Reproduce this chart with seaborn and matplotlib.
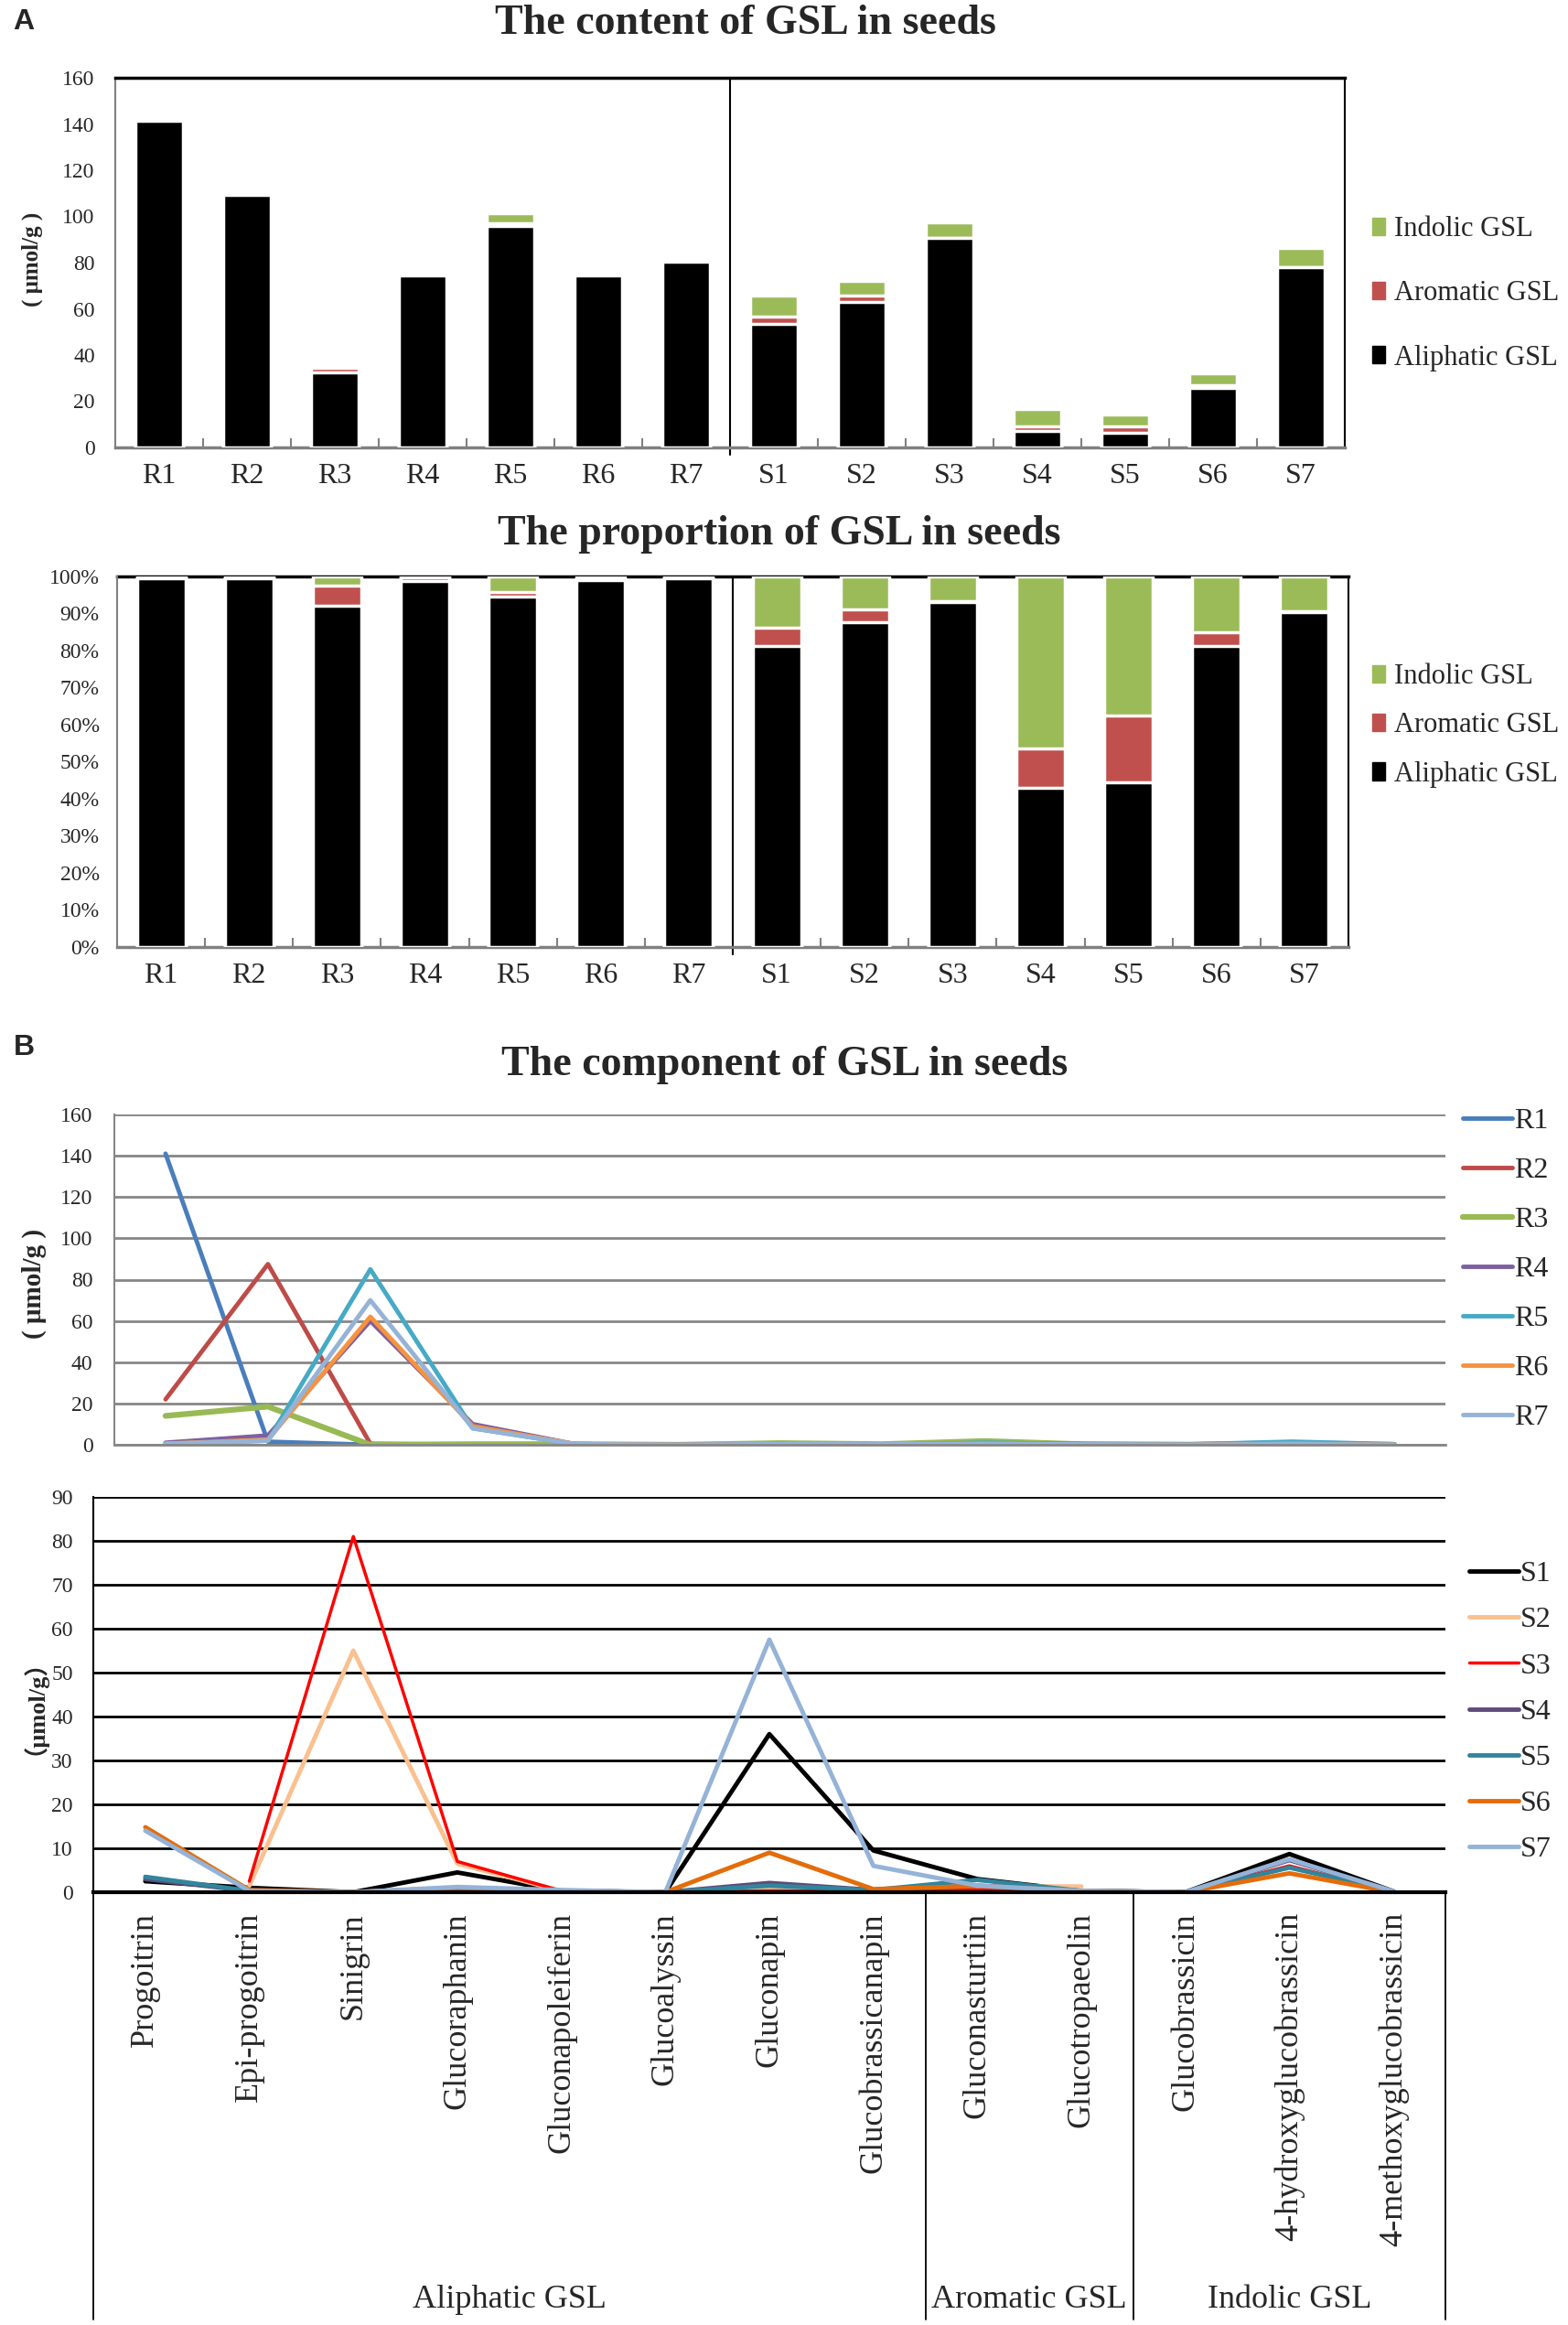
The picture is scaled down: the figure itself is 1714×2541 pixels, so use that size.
import numpy as np
import pandas as pd
import seaborn as sns
import matplotlib.pyplot as plt
from matplotlib.patches import Patch
from matplotlib.lines import Line2D
from matplotlib.ticker import FuncFormatter

# ---- data -------------------------------------------------------------
samples = ['R1', 'R2', 'R3', 'R4', 'R5', 'R6', 'R7',
           'S1', 'S2', 'S3', 'S4', 'S5', 'S6', 'S7']
aliphatic = [141.2, 109.2, 32.5, 74.3, 95.8, 74.3, 80.5,
             53.3, 63.1, 90.5, 7.2, 6.4, 25.9, 78.0]
aromatic = [0.1, 0.1, 1.9, 0.8, 1.3, 0.3, 0.1,
            3.3, 2.5, 0.2, 1.8, 2.6, 1.2, 0.2]
indolic = [0.6, 0.5, 0.9, 0.1, 4.3, 0.5, 0.4,
           9.1, 6.4, 6.6, 7.8, 5.4, 4.8, 8.0]

components = ['Progoitrin', 'Epi-progoitrin', 'Sinigrin', 'Glucoraphanin',
              'Gluconapoleiferin', 'Glucoalyssin', 'Gluconapin',
              'Glucobrassicanapin', 'Gluconasturtiin', 'Glucotropaeolin',
              'Glucobrassicin', '4-hydroxyglucobrassicin',
              '4-methoxyglucobrassicin']
groups = ['Aliphatic GSL', 'Aromatic GSL', 'Indolic GSL']
group_bounds = [(-0.5, 7.5), (7.5, 9.5), (9.5, 12.5)]

nan = np.nan
R1 = [141, 1.5, 0, 0, 0, 0, 0, 0, 0, 0, 0, 0.3, 0]
R2 = [22, 87.5, 0.5, 0, 0, 0, 0, 0, 0.1, 0, 0, 0.4, 0]
R3 = [14, 18.5, 0, 0.3, 0.3, 0, 0.8, 0.3, 1.8, 0.2, 0, 0.8, 0]
R4 = [1, 4.5, 60, 10, 0.3, 0, 0.3, 0, 0.5, 0.4, 0.3, 0.5, 0.2]
R5 = [0.5, 2, 85, 8, 0.3, 0, 0.2, 0, 1, 0.3, 0.2, 1.5, 0.3]
R6 = [0.5, 2.5, 62, 9, 0.3, 0, 0, 0, 0.3, 0, 0, 0.5, 0]
R7 = [0.5, 2, 70, 8, 0.3, 0, 0.3, 0.2, 0.5, 0.2, 0, 0.4, 0]

S1 = [2.5, 1.0, 0, 4.5, 0.3, 0, 36, 9.5, 3.0, 0.3, 0, 8.7, 0.2]
S2 = [nan, 1.5, 55, 6.5, 0.3, 0, 1, 0.5, 1.4, 1.3, nan, nan, nan]
S3 = [nan, 2.5, 81, 7, 0.3, 0, 0.3, 0.3, 0.5, 0.3, 0, 6, 0]
S4 = [3, 0.3, 0, 1, 0.3, 0, 2.1, 0.5, 1.5, 0.3, 0, 7.3, 0.2]
S5 = [3.5, 0.3, 0, 0.8, 0.3, 0, 1.5, 0.5, 2.8, 0.3, 0, 5.6, 0.2]
S6 = [14.8, 0.5, 0, 1, 0.3, 0, 9, 0.7, 1.4, 0.3, 0, 4.3, 0]
S7 = [14, 0.3, 0, 1.2, 0.5, 0, 57.5, 6, 1.5, 0.3, 0, 7.5, 0.2]

r_series = {'R1': R1, 'R2': R2, 'R3': R3, 'R4': R4, 'R5': R5, 'R6': R6, 'R7': R7}
s_series = {'S1': S1, 'S2': S2, 'S3': S3, 'S4': S4, 'S5': S5, 'S6': S6, 'S7': S7}

r_colors = {'R1': '#4A7EBB', 'R2': '#BE4B48', 'R3': '#98B954', 'R4': '#7D60A0',
            'R5': '#46AAC5', 'R6': '#F69240', 'R7': '#95B3D7'}
s_colors = {'S1': '#000000', 'S2': '#FAC090', 'S3': '#FF0000', 'S4': '#604A7B',
            'S5': '#31859C', 'S6': '#E46C0A', 'S7': '#95B3D7'}
s_widths = {'S1': 3.5, 'S2': 3.5, 'S3': 2.5, 'S4': 3.5, 'S5': 3.5, 'S6': 3.5, 'S7': 3.5}

c_ali, c_aro, c_ind = '#000000', '#C0504D', '#9BBB59'

# ---- style ------------------------------------------------------------
sns.set_style('white')
plt.rcParams['font.family'] = ['Liberation Serif', 'Noto Sans CJK SC']
plt.rcParams['axes.linewidth'] = 1.5

W, H = 1715, 2541
fig = plt.figure(figsize=(W / 100, H / 100), dpi=100)


def box(left, top, right, bottom):
    return [left / W, 1 - bottom / H, (right - left) / W, (bottom - top) / H]


df = pd.DataFrame({'sample': samples, 'aliphatic': aliphatic,
                   'aromatic': aromatic, 'indolic': indolic})
df['lvl1'] = df['aliphatic']
df['lvl2'] = df['aliphatic'] + df['aromatic']
df['lvl3'] = df['lvl2'] + df['indolic']


def stacked(ax, a, b, c):
    kw = dict(x=samples, width=0.55, saturation=1, edgecolor='white',
              linewidth=2.5, ax=ax, zorder=3, errorbar=None)
    sns.barplot(y=c, color=c_ind, **kw)
    sns.barplot(y=b, color=c_aro, **kw)
    sns.barplot(y=a, color=c_ali, **kw)
    ax.set_xlim(-0.5, 13.5)
    ax.set_xlabel('')
    ax.set_ylabel('')
    ax.set_xticks(range(14))
    ax.set_xticklabels(samples, fontsize=23)
    ax.set_xticks([i + 0.5 for i in range(13) if i != 6], minor=True)
    ax.tick_params(axis='x', which='major', length=0, pad=12)
    ax.tick_params(axis='x', which='minor', direction='in', length=7,
                   width=1.5, color='#808080', bottom=True)
    ax.tick_params(axis='y', length=0, labelsize=17)
    ax.spines['left'].set_color('#808080')
    ax.spines['bottom'].set_color('#808080')
    ax.spines['bottom'].set_linewidth(2.5)
    ax.spines['top'].set_color('black')
    ax.spines['top'].set_linewidth(2.5)
    ax.spines['right'].set_color('black')
    ax.axvline(6.5, ymin=-0.02, ymax=1, color='black', lw=1.5, clip_on=False)


def bar_legend(y_top, spacing):
    handles = [Patch(color=c_ind, label='Indolic GSL'),
               Patch(color=c_aro, label='Aromatic GSL'),
               Patch(color=c_ali, label='Aliphatic GSL')]
    fig.legend(handles=handles, loc='upper left',
               bbox_to_anchor=(1500 / W, 1 - y_top / H),
               frameon=False, fontsize=22, handlelength=0.45, handleheight=0.6,
               handletextpad=0.35, labelspacing=spacing, borderpad=0,
               borderaxespad=0)


# ---- A: content -------------------------------------------------------
ax1 = fig.add_axes(box(126, 85, 1470, 489))
stacked(ax1, df['lvl1'], df['lvl2'], df['lvl3'])
ax1.set_ylim(0, 160)
ax1.set_yticks(range(0, 161, 20))
ax1.tick_params(axis='y', pad=16)
bar_legend(236, 1.35)

# ---- A: proportion ----------------------------------------------------
ax2 = fig.add_axes(box(128, 630, 1474, 1035))
tot = df['lvl3']
stacked(ax2, df['lvl1'] / tot, df['lvl2'] / tot, df['lvl3'] / tot)
ax2.spines['top'].set_zorder(1)
ax2.set_ylim(0, 1)
ax2.set_yticks(np.arange(0, 1.01, 0.1))
ax2.yaxis.set_major_formatter(FuncFormatter(lambda v, p: f'{v * 100:.0f}%'))
ax2.tick_params(axis='y', pad=14)
bar_legend(725, 0.80)

# ---- B: components, R lines -------------------------------------------
pos = list(range(len(components)))
ax3 = fig.add_axes(box(125, 1218, 1580, 1579))
for name, vals in r_series.items():
    sns.lineplot(x=pos, y=vals, color=r_colors[name],
                 linewidth=4.5 if name == 'R3' else 3.5,
                 estimator=None, sort=False, label=name, ax=ax3)
ax3.set_xlim(-0.5, 12.5)
ax3.set_ylim(0, 160)
ax3.set_yticks(range(0, 161, 20))
ax3.set_xticks(pos)
ax3.set_xticklabels([])
ax3.tick_params(axis='both', length=0, labelsize=17)
ax3.tick_params(axis='y', pad=17)
ax3.set_axisbelow(True)
ax3.yaxis.grid(True, color='#868686', lw=2)
for s in ['top', 'right']:
    ax3.spines[s].set_visible(False)
ax3.spines['left'].set_color('#868686')
ax3.spines['bottom'].set_color('#868686')
ax3.spines['bottom'].set_linewidth(2)
ax3.legend(loc='upper left', bbox_to_anchor=(1599 / W, 1 - 1211 / H),
           bbox_transform=fig.transFigure, frameon=False, fontsize=23,
           handlelength=1.7, handletextpad=0.05, labelspacing=0.77,
           borderpad=0, borderaxespad=0)

# ---- B: components, S lines -------------------------------------------
ax4 = fig.add_axes(box(102, 1636, 1580, 2068))
for name, vals in s_series.items():
    sns.lineplot(x=pos, y=vals, color=s_colors[name], linewidth=s_widths[name],
                 estimator=None, sort=False, label=name, ax=ax4)
ax4.set_xlim(-0.5, 12.5)
ax4.set_ylim(0, 90)
ax4.set_yticks(range(0, 91, 10))
ax4.set_xticks(pos)
ax4.set_xticklabels(components, rotation=90, fontsize=26)
ax4.tick_params(axis='both', length=0, labelsize=17)
ax4.tick_params(axis='x', labelsize=26, pad=16)
ax4.tick_params(axis='y', pad=16)
ax4.set_axisbelow(True)
ax4.yaxis.grid(True, color='black', lw=2)
for s in ['top', 'right']:
    ax4.spines[s].set_visible(False)
ax4.spines['left'].set_color('black')
ax4.spines['bottom'].set_color('black')
ax4.spines['bottom'].set_linewidth(3)
ax4.legend(loc='upper left', bbox_to_anchor=(1606 / W, 1 - 1706 / H),
           bbox_transform=fig.transFigure, frameon=False, fontsize=23,
           handlelength=1.7, handletextpad=0.05, labelspacing=0.65,
           borderpad=0, borderaxespad=0)

# group separators and labels under the rotated names
trans = ax4.get_xaxis_transform()
drop = -(2535 - 2068) / (2068 - 1636)
for xb in [-0.5, 7.5, 9.5, 12.5]:
    ax4.add_line(Line2D([xb, xb], [0, drop], color='black', lw=1.3,
                        transform=trans, clip_on=False))
lab_y = -(2513 - 2068) / (2068 - 1636)
for g, (a, b) in zip(groups, group_bounds):
    ax4.text((a + b) / 2, lab_y, g, transform=trans, ha='center', va='center',
             fontsize=26)

# ---- titles, panel letters, axis labels -------------------------------
fig.text(815 / W, 1 - 26 / H, 'The content of GSL in seeds', ha='center',
         va='center', fontsize=33, fontweight='bold')
fig.text(852 / W, 1 - 584 / H, 'The proportion of GSL in seeds', ha='center',
         va='center', fontsize=33, fontweight='bold')
fig.text(858 / W, 1 - 1164 / H, 'The component of GSL in seeds', ha='center',
         va='center', fontsize=33, fontweight='bold')
fig.text(26 / W, 1 - 24 / H, 'A', ha='center', va='center', fontsize=23,
         fontweight='bold', family='Liberation Sans')
fig.text(26 / W, 1 - 1145 / H, 'B', ha='center', va='center', fontsize=23,
         fontweight='bold', family='Liberation Sans')
fig.text(35 / W, 1 - 283 / H, '( μmol/g )', rotation=90, ha='center',
         va='center', fontsize=18, fontweight='bold')
fig.text(37 / W, 1 - 1403 / H, '( μmol/g )', rotation=90, ha='center',
         va='center', fontsize=21, fontweight='bold')
fig.text(24 / W, 1 - 1853 / H, '（μmol/g）', rotation=90, ha='center',
         va='center', fontsize=19, fontweight='bold',
         family=['Liberation Serif', 'Noto Sans CJK SC'])

fig.savefig('out.png', dpi=100)
plt.close(fig)
